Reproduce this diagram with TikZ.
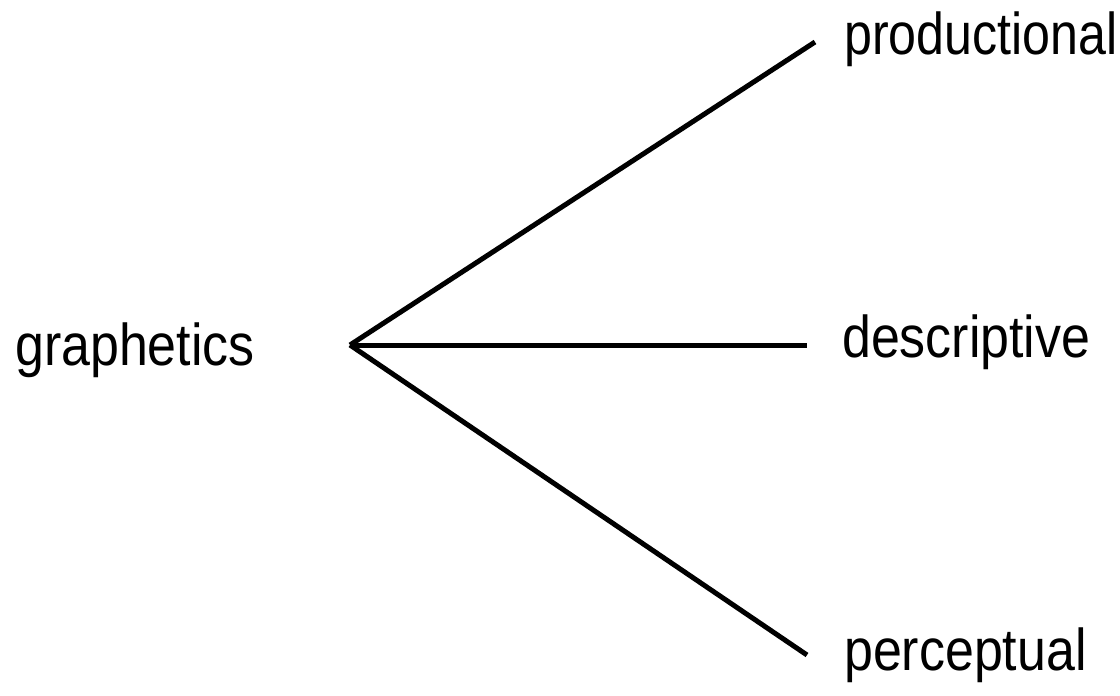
\documentclass[tikz,border=0pt]{standalone}
\usepackage{fontspec}
\setmainfont{Liberation Sans}[FakeStretch=0.88]
\newfontfamily\narrowsans{Liberation Sans}[FakeStretch=0.85]
\usepackage{tikz}

\tikzset{
  term/.style={anchor=base west, inner sep=0pt, font=\fontsize{59}{61}\selectfont},
  branch/.style={line width=5pt, black}
}

\begin{document}
\begin{tikzpicture}[x=1pt,y=-1pt]
                \useasboundingbox (0,0) rectangle (1120,696);
                % labels
                \node[term] (graphetics) at (15,365) {graphetics};
                \node[term, font=\fontsize{59}{61}\narrowsans] (productional) at (844,54) {productional};
                \node[term] (descriptive) at (842,357) {descriptive};
                \node[term] (perceptual) at (844,670) {perceptual};
                % hub and free ends
                \coordinate (hub) at (350,345);
                \coordinate (prodend) at (815,42);
                \coordinate (descend) at (807,345);
                \coordinate (percend) at (807,655);
                % branches
                \draw[branch] (hub) -- (prodend);
                \draw[branch] (hub) -- (descend);
                \draw[branch] (hub) -- (percend);
            \end{tikzpicture}
\end{document}
